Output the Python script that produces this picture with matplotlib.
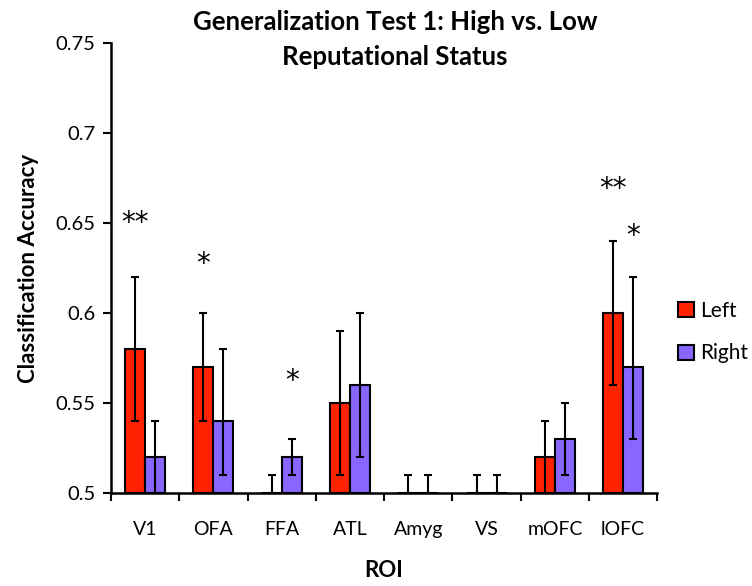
import matplotlib
matplotlib.use('Agg')
import matplotlib.pyplot as plt
import numpy as np

rois = ['V1', 'OFA', 'FFA', 'ATL', 'Amyg', 'VS', 'mOFC', 'lOFC']
left = [0.58, 0.57, 0.50, 0.55, 0.50, 0.50, 0.52, 0.60]
right = [0.52, 0.54, 0.52, 0.56, 0.50, 0.50, 0.53, 0.57]
left_lo = [0.54, 0.54, 0.50, 0.51, 0.50, 0.50, 0.50, 0.56]
left_hi = [0.62, 0.60, 0.51, 0.59, 0.51, 0.51, 0.54, 0.64]
right_lo = [0.50, 0.51, 0.51, 0.52, 0.50, 0.50, 0.51, 0.53]
right_hi = [0.54, 0.58, 0.53, 0.60, 0.51, 0.51, 0.55, 0.62]
# significance marks: (roi index, side, text, height)
stars = [(0, 'L', '**', 0.650), (1, 'L', '*', 0.627), (2, 'R', '*', 0.562),
         (7, 'L', '**', 0.669), (7, 'R', '*', 0.643)]

plt.rcParams['font.family'] = ['Lato', 'DejaVu Sans']

fig = plt.figure(figsize=(7.52, 5.86), dpi=100)
ax = fig.add_axes([0.1476, 0.1587, 0.7264, 0.7679])

x = np.arange(len(rois)) + 0.5
w = 0.293
base = 0.5
red = '#ff2200'
purple = '#8866ff'

lv = np.array(left); rv = np.array(right)
ax.bar(x - w/2, lv - base, w, bottom=base, color=red, edgecolor='black', linewidth=1.5, zorder=2, label='Left')
ax.bar(x + w/2, rv - base, w, bottom=base, color=purple, edgecolor='black', linewidth=1.5, zorder=2, label='Right')

lerr = [lv - np.array(left_lo), np.array(left_hi) - lv]
rerr = [rv - np.array(right_lo), np.array(right_hi) - rv]
ax.errorbar(x - w/2, lv, yerr=lerr, fmt='none', ecolor='black', elinewidth=1.5, capsize=3, capthick=1.5, zorder=3)
ax.errorbar(x + w/2, rv, yerr=rerr, fmt='none', ecolor='black', elinewidth=1.5, capsize=3, capthick=1.5, zorder=3)

for i, side, txt, h in stars:
    xx = x[i] - w/2 if side == 'L' else x[i] + w/2
    ax.text(xx, h, txt, ha='center', va='center', fontsize=20, family='DejaVu Sans')

ax.set_xlim(0, len(rois))
ax.set_ylim(0.5, 0.75)
ax.set_yticks([0.5, 0.55, 0.6, 0.65, 0.7, 0.75])
ax.set_yticklabels(['0.5', '0.55', '0.6', '0.65', '0.7', '0.75'], fontsize=14.5)
ax.set_xticks(np.arange(len(rois) + 1))
ax.set_xticklabels([])
ax.set_xticks(x, minor=True)
ax.set_xticklabels(rois, minor=True, fontsize=14)
ax.tick_params(axis='x', which='minor', length=0, pad=20)
ax.tick_params(axis='x', which='major', length=6, width=1.5, direction='out')
ax.tick_params(axis='y', length=6, width=1.5, direction='out', pad=5)
for s in ['top', 'right']:
    ax.spines[s].set_visible(False)
for s in ['left', 'bottom']:
    ax.spines[s].set_linewidth(1.8)

ax.set_ylabel('Classification Accuracy', fontsize=16, fontweight='bold', labelpad=12)
ax.set_xlabel('ROI', fontsize=16, fontweight='bold', labelpad=16)

fig.text(395/752, 1 - 22/586, 'Generalization Test 1: High vs. Low', ha='center', va='center',
         fontsize=18.5, fontweight='bold')
fig.text(395/752, 1 - 57/586, 'Reputational Status', ha='center', va='center',
         fontsize=18.5, fontweight='bold')

fig.legend(loc='center left', bbox_to_anchor=(678/752, 1 - 332/586), frameon=False, fontsize=15,
           handlelength=0.75, handleheight=0.75, handletextpad=0.3, labelspacing=1.1,
           borderaxespad=0, borderpad=0)

fig.savefig('out.png', dpi=100)
